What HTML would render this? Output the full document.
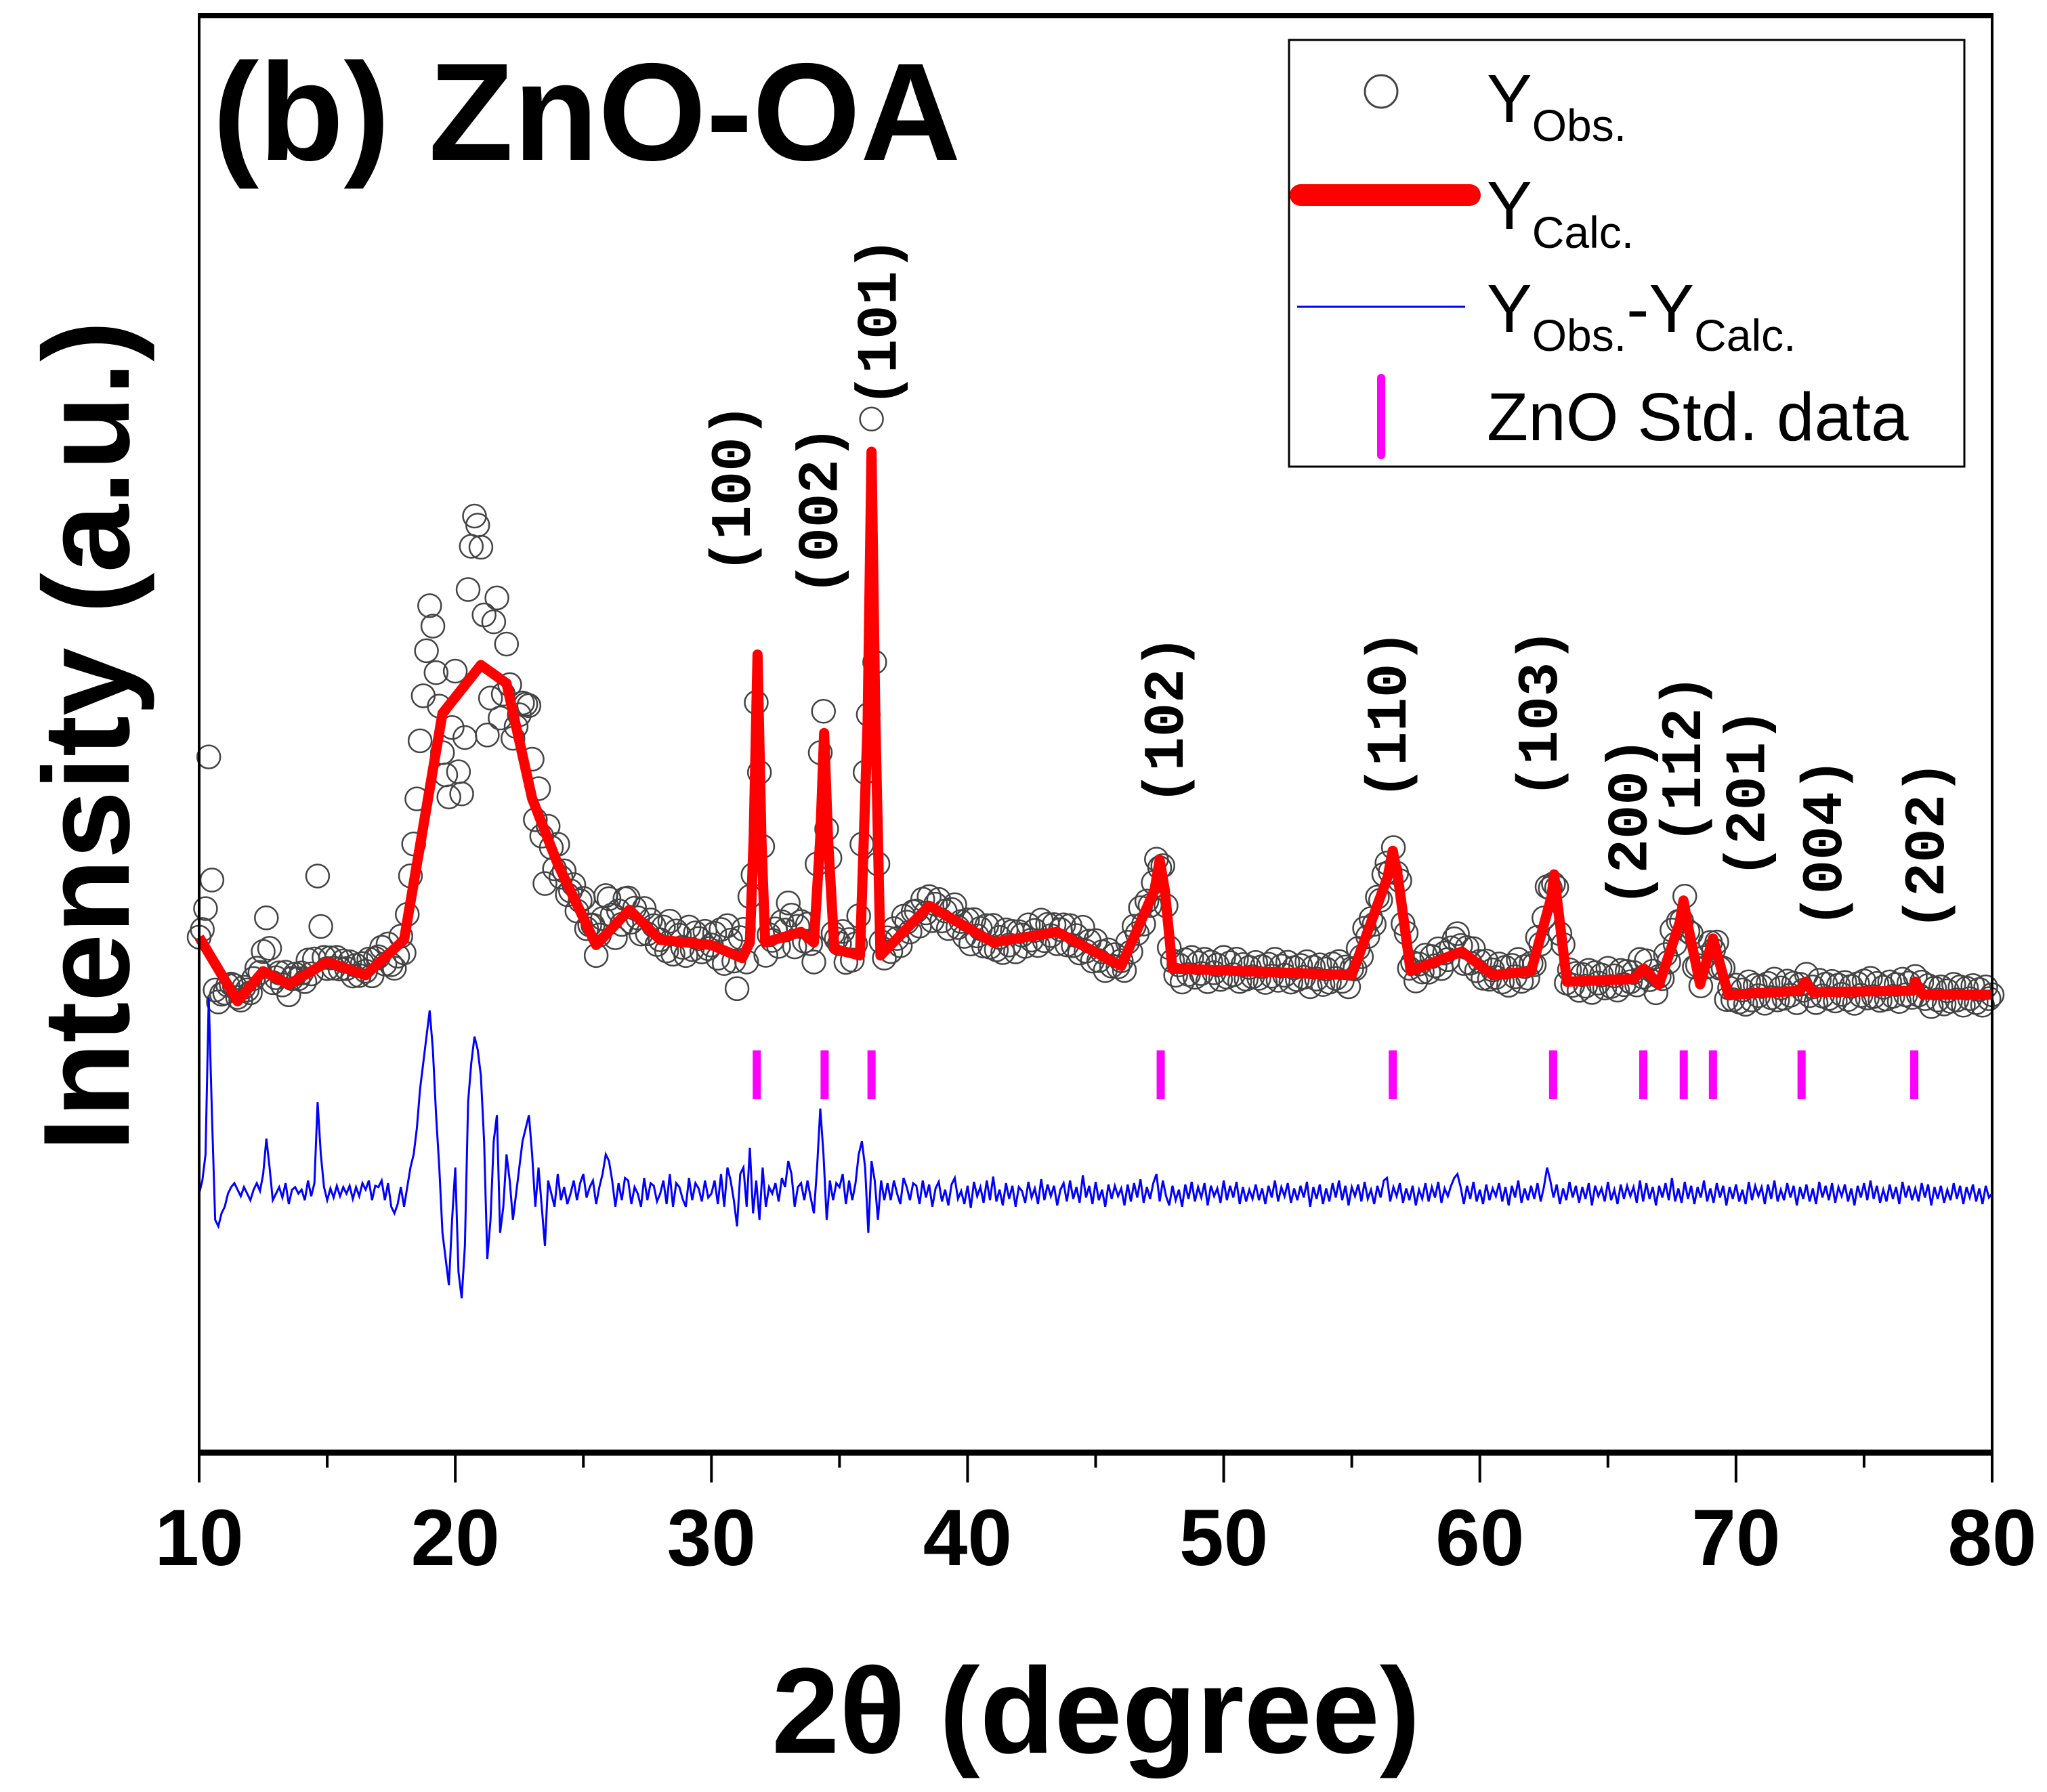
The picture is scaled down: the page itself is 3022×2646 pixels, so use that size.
<!DOCTYPE html>
<html><head><meta charset="utf-8"><style>
html,body{margin:0;padding:0;background:#fff}
svg{display:block}
</style></head><body>
<svg id="chart" width="3022" height="2646" viewBox="0 0 3022 2646" xmlns="http://www.w3.org/2000/svg" font-family="Liberation Sans, sans-serif">
<rect width="3022" height="2646" fill="#fff"/>
<g id="plot"></g>
<g id="axes"></g>
<text x="314" y="236" font-size="205" font-weight="bold">(b) ZnO-OA</text>
<text transform="translate(190,1087) rotate(-90)" text-anchor="middle" font-size="181" font-weight="bold">Intensity (a.u.)</text>
<text x="1618" y="2588" text-anchor="middle" font-size="180" font-weight="bold">2θ (degree)</text>
<g>
<rect x="1903" y="59" width="997" height="630" fill="#fff" stroke="#000" stroke-width="3"/>
<circle cx="2039" cy="135" r="24" fill="none" stroke="#444" stroke-width="3"/>
<text x="2195" y="180" font-size="100">Y<tspan font-size="66" dy="28">Obs.</tspan></text>
<line x1="1920" y1="288" x2="2170" y2="288" stroke="#f00" stroke-width="32" stroke-linecap="round"/>
<text x="2195" y="338" font-size="100">Y<tspan font-size="66" dy="28">Calc.</tspan></text>
<line x1="1915" y1="453" x2="2163" y2="453" stroke="#00f" stroke-width="3"/>
<text x="2195" y="490" font-size="100">Y<tspan font-size="66" dy="28">Obs.</tspan><tspan dy="-28">-Y</tspan><tspan font-size="66" dy="28">Calc.</tspan></text>
<line x1="2039" y1="558" x2="2039" y2="672" stroke="#f0f" stroke-width="12" stroke-linecap="round"/>
<text x="2195" y="650" font-size="100">ZnO Std. data</text>
</g>
</svg>
<script>
// Calculated profile (2theta, intensity in arbitrary units)
const calcX = [10,11.5,12.5,13.5,15,16.5,18,19.5,21,22,23,24,25.5,26.8,28,30,31.2,31.5,31.65,31.8,31.95,32.1,33.5,34.0,34.25,34.4,34.55,34.8,35.8,36.1,36.25,36.4,36.6,38.5,41,43.5,46,47.3,47.5,47.7,48,55,56.4,56.6,56.8,57.3,59.3,60.5,62,62.8,62.9,63.0,63.4,66,66.4,67,67.8,67.95,68.1,68.6,69.1,69.7,72.5,72.7,73,76.9,77.0,77.3,80];
const calcY = [394,345,368,358,375,365,392,565,602,588,500,450,388,415,392,388,378,390,470,610,470,390,398,390,470,550,470,385,380,560,765,560,380,418,390,398,372,430,453,430,370,365,440,460,440,368,383,365,368,425,442,425,360,362,370,358,405,422,405,358,393,350,353,360,352,353,360,350,350];
// Residual Yobs - Ycalc sampled every 0.125 deg from 10
const diffStart = 10, diffStep = 0.125;
const diff = [
0,10,30,150,60,-20,-25,-15, -10,0,5,8,3,-2,5,0, -5,3,8,2,15,42,20,-5, 0,5,-3,8,-8,3,5,0,
3,-5,10,-2,8,70,30,5, -5,4,-3,6,-2,5,0,6, -4,5,-2,8,3,10,-5,6, 5,10,-5,8,-10,-15,-8,5,
-10,5,20,30,50,80,100,120, 140,110,60,20,-30,-50,-70,-20, 20,-60,-80,-40,70,100,120,110, 90,40,-50,-20,40,60,-30,-10,
30,10,-20,0,20,40,50,60, 30,-10,20,-10,-40,10,0,-10, 15,-5,5,-8,0,10,-5,8, 15,-3,5,10,-8,5,15,30,
25,10,-10,8,-5,12,10,-8, 5,0,-10,12,-5,8,6,-6, 0,10,-8,15,-10,8,5,-4, -10,12,-5,8,4,-6,10,-3,
0,10,-8,15,-10,20,10,-5, -25,15,20,-10,35,-15,10,-20, 20,-10,5,0,8,-6,12,5, 25,15,-10,5,8,-5,10,-3,
-15,20,65,30,-20,10,-5,8, 5,15,-8,10,-5,8,30,40, 20,-30,25,10,-20,10,-5,8, -5,10,0,-8,12,5,-5,8,
6,-8,10,-3,7,-10,4,9, -6,3,-9,7,12,-4,2,-8, 6,-11,9,-2,5,-7,10,-5, 13,-6,3,-9,8,-4,6,-10,
5,2,-7,9,-3,4,-8,11, -5,7,-2,6,-9,3,8,-6, 10,-4,5,-7,14,-3,6,-8, 9,-5,3,-10,7,-4,6,-2,
4,-9,7,-6,8,-3,11,-7, 5,-4,8,15,-6,10,-2,-9, 6,-5,3,-10,7,-4,9,-6, 5,-3,8,-9,6,-2,4,-7,
10,-5,6,-3,9,-8,5,-6, 3,-4,7,-5,4,-8,6,-3, 10,-6,5,-2,8,-7,4,-5, 6,-3,9,-10,5,-4,7,-8,
4,-6,8,-3,10,-5,6,-9, 5,-2,7,-6,9,-4,3,-8, 6,-3,10,12,-6,5,-2,8, -7,4,-5,6,-9,3,-4,8,
-6,5,-3,9,-7,4,-2,6, 12,15,5,-8,6,-4,9,-6, 3,-8,7,-5,4,-2,8,-6, 5,-9,6,-3,10,-7,4,-5,
6,-4,8,-6,5,20,10,-3, 7,-8,4,-5,9,-3,6,-7, 5,-4,8,-9,6,-2,4,-6, 9,-5,3,-8,7,-4,6,-2,
5,-7,10,-6,8,-4,5,-9, 6,-3,8,-5,12,-6,4,-7, 9,-4,6,-8,5,-3,10,-6, 4,-7,8,-3,6,-9,5,-4,
7,-6,3,-8,9,-5,6,-2, 5,-8,7,-4,10,-6,3,-5, 8,-3,6,-9,5,-4,7,-6, 4,-8,9,-3,6,-5,8,-7,
5,-2,7,-6,4,-9,6,-3, 8,-5,10,-4,6,-7,3,-6, 7,-4,5,-8,9,-3,6,-5, 4,-6,8,-3,7,-9,5,-4,
6,-7,3,-5,8,-4,6,-8, 5,-3,7,-6,4,-8,6,-3, 0];
const stdPeaks = [31.77,34.42,36.25,47.54,56.6,62.86,66.38,67.96,69.1,72.56,76.96];
const hklLabels = ['(100)','(002)','(101)','(102)','(110)','(103)','(200)','(112)','(201)','(004)','(202)'];
const hklX = [31.5,34.9,37.2,48.4,57.1,63.0,66.5,68.6,71.1,74.1,78.1];
const hklY = [737,720,864,560,564,565,482,530,504,466,464];
const xTicks = [10,20,30,40,50,60,70,80];

const X0=294, X1=2941, Y0=23, Y1=2145, PX=1.932;
const xs = v => X0 + (v-10)*(X1-X0)/70;
const ys = v => Y1 - v*PX;
const diffBase = 198;
const NS='http://www.w3.org/2000/svg';
function mk(tag, attrs, parent){const e=document.createElementNS(NS,tag);for(const k in attrs)e.setAttribute(k,attrs[k]);parent.appendChild(e);return e;}
function calcAt(x){for(let i=0;i<calcX.length-1;i++){if(x>=calcX[i]&&x<=calcX[i+1]){const t=(x-calcX[i])/(calcX[i+1]-calcX[i]);return calcY[i]+t*(calcY[i+1]-calcY[i]);}}return calcY[calcY.length-1];}
const plot=document.getElementById('plot'), axes=document.getElementById('axes');

// observed circles
const obsG=mk('g',{},plot);


diff.forEach((d,i)=>{const x=diffStart+i*diffStep;
  const c=mk('circle',{cx:xs(x),cy:ys(calcAt(x)+d),r:17,fill:'none',stroke:'#444','stroke-width':2.5},obsG);
  
  });
// calc line
const cl=mk('polyline',{points:calcX.map((x,i)=>xs(x)+','+ys(calcY[i])).join(' '),fill:'none',stroke:'#f00','stroke-width':15,'stroke-linejoin':'round'},plot);


// diff line
const dl=mk('polyline',{points:diff.map((d,i)=>xs(diffStart+i*diffStep)+','+ys(diffBase+d)).join(' '),fill:'none',stroke:'#00f','stroke-width':3},plot);


// std ticks
stdPeaks.forEach(p=>{const l=mk('line',{x1:xs(p),x2:xs(p),y1:1551,y2:1623,stroke:'#f0f','stroke-width':12},plot);
  
  });
// hkl labels
hklLabels.forEach((t,i)=>{const e=mk('text',{transform:`translate(${xs(hklX[i])},${ys(hklY[i])}) rotate(-90)`,'text-anchor':'middle','font-size':84,'font-weight':'bold','font-family':'Liberation Mono, monospace'},plot);
  e.textContent=t;
  
  });
// frame
const fr=mk('rect',{x:X0,y:Y0,width:X1-X0,height:Y1-Y0,fill:'none',stroke:'#000','stroke-width':4},axes);


const bl=mk('line',{x1:X0-2,x2:X1+2,y1:Y1,y2:Y1,stroke:'#000','stroke-width':9},axes);


const tl=mk('line',{x1:X0-2,x2:X1+2,y1:Y0,y2:Y0,stroke:'#000','stroke-width':8},axes);


for(let v=15;v<80;v+=10){const m=mk('line',{x1:xs(v),x2:xs(v),y1:Y1,y2:Y1+22,stroke:'#000','stroke-width':4},axes);
  
  }
xTicks.forEach(v=>{const m=mk('line',{x1:xs(v),x2:xs(v),y1:Y1,y2:Y1+44,stroke:'#000','stroke-width':4},axes);
  
  
  const t=mk('text',{x:xs(v),y:2311,'text-anchor':'middle','font-size':118,'font-weight':'bold'},axes);
  t.textContent=v;
  
  });
</script>
</body></html>
